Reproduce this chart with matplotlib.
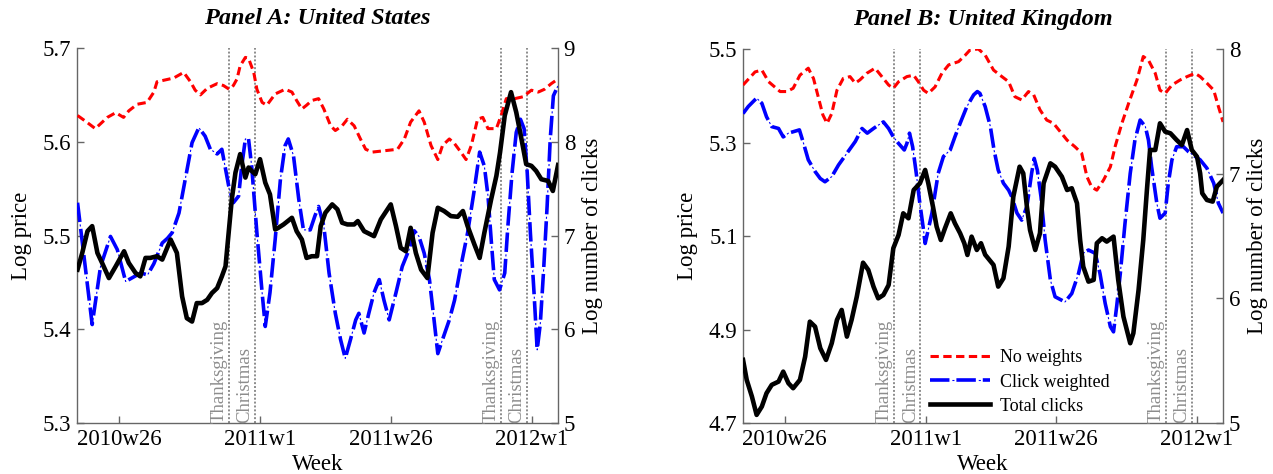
import matplotlib
matplotlib.use("Agg")
import matplotlib.pyplot as plt
from matplotlib.legend_handler import HandlerTuple

plt.rcParams['font.family'] = ['Liberation Serif', 'DejaVu Serif']
plt.rcParams['lines.scale_dashes'] = False

# x axis: weeks counted from 2010w26
tick_weeks = [0, 27, 52, 79]
tick_labels = ['2010w26', '2011w1', '2011w26', '2012w1']
event_weeks = [21, 26, 73, 78]
event_labels = ['Thanksgiving', 'Christmas', 'Thanksgiving', 'Christmas']
legend_labels = ['No weights', 'Click weighted', 'Total clicks']

# Panel A: United States
us_nw_week = [-7.9, -6.4, -4.5, -2.2, -0.6, 0.9, 1.9, 3.5, 5.4, 6.7, 7.3, 8.9, 10.5, 12.4, 13.7,
              14.6, 15.6, 16.9, 18.8, 20.0, 21.1, 21.9, 22.6, 23.2, 24.2, 24.8, 25.8, 26.4, 27.4,
              28.3, 29.9, 31.8, 33.1, 34.0, 35.0, 35.9, 36.9, 38.2, 39.2, 40.5, 41.4, 42.7, 43.7,
              45.0, 46.2, 47.2, 48.5, 50.1, 53.3, 54.6, 55.8, 57.4, 58.4, 59.7, 61.0, 61.9, 63.2,
              64.2, 65.4, 66.4, 67.4, 68.6, 69.6, 70.6, 72.2, 73.1, 74.1, 75.7, 77.3, 78.9, 80.2,
              81.4, 82.7, 84.0]
us_nw_price = [5.628, 5.622, 5.614, 5.626, 5.631, 5.626, 5.633, 5.640, 5.642, 5.653, 5.664, 5.666,
               5.668, 5.674, 5.664, 5.655, 5.650, 5.657, 5.662, 5.660, 5.656, 5.660, 5.667, 5.681,
               5.690, 5.689, 5.674, 5.656, 5.642, 5.639, 5.651, 5.656, 5.653, 5.644, 5.635, 5.639,
               5.644, 5.646, 5.635, 5.617, 5.612, 5.617, 5.624, 5.617, 5.603, 5.592, 5.589, 5.590,
               5.592, 5.603, 5.621, 5.633, 5.621, 5.596, 5.581, 5.596, 5.603, 5.598, 5.589, 5.581,
               5.596, 5.624, 5.626, 5.614, 5.614, 5.628, 5.646, 5.646, 5.648, 5.655, 5.653, 5.656,
               5.662, 5.667]

us_cw_week = [-7.9, -5.1, -3.5, -1.6, -0.3, 1.3, 2.9, 4.2, 5.5, 6.7, 8.3, 9.3, 10.2, 11.5, 12.7,
              14.0, 15.3, 16.5, 17.5, 18.8, 19.7, 21.0, 21.9, 22.9, 23.5, 24.2, 24.8, 25.4, 26.4,
              27.4, 28.0, 28.9, 29.9, 30.9, 31.8, 32.4, 33.4, 34.4, 35.3, 36.6, 37.5, 38.2, 39.2,
              40.2, 41.4, 42.4, 43.3, 44.3, 45.3, 45.9, 46.9, 47.8, 48.8, 49.8, 50.7, 51.7, 53.0,
              54.2, 55.5, 56.5, 57.4, 58.4, 59.4, 60.2, 61.0, 61.9, 63.2, 64.2, 65.4, 66.7, 67.9,
              69.0, 69.9, 70.6, 71.2, 71.8, 72.8, 73.8, 74.4, 75.2, 76.0, 76.8, 77.5, 78.1, 78.7,
              79.4, 80.0, 80.6, 81.2, 81.9, 82.5, 83.1, 84.0]
us_cw_price = [5.535, 5.405, 5.467, 5.499, 5.485, 5.451, 5.456, 5.460, 5.458, 5.470, 5.492, 5.497,
               5.503, 5.524, 5.560, 5.599, 5.615, 5.606, 5.592, 5.587, 5.592, 5.553, 5.535, 5.542,
               5.574, 5.603, 5.603, 5.574, 5.503, 5.439, 5.403, 5.439, 5.496, 5.560, 5.596, 5.603,
               5.585, 5.539, 5.506, 5.506, 5.521, 5.531, 5.510, 5.460, 5.417, 5.389, 5.369, 5.389,
               5.410, 5.417, 5.396, 5.417, 5.439, 5.453, 5.431, 5.410, 5.439, 5.467, 5.485, 5.505,
               5.499, 5.481, 5.453, 5.414, 5.374, 5.389, 5.410, 5.431, 5.467, 5.503, 5.546, 5.589,
               5.574, 5.542, 5.496, 5.453, 5.442, 5.460, 5.510, 5.567, 5.610, 5.624, 5.614, 5.567,
               5.503, 5.439, 5.378, 5.406, 5.460, 5.531, 5.603, 5.649, 5.660]

us_clk_week = [-7.9, -7.0, -6.0, -5.1, -4.1, -3.2, -1.9, -0.6, 1.0, 1.9, 3.2, 4.1, 5.1, 6.0, 7.3,
               8.3, 9.9, 11.1, 12.1, 13.0, 14.0, 14.9, 15.9, 16.9, 17.8, 18.8, 19.7, 20.4, 21.0,
               21.6, 22.3, 23.2, 24.2, 24.8, 25.4, 26.1, 27.0, 28.0, 28.9, 29.9, 30.5, 31.5, 33.1,
               34.0, 35.0, 35.9, 36.9, 37.9, 38.6, 39.5, 40.8, 41.8, 42.7, 43.7, 45.0, 45.7, 46.9,
               48.8, 50.1, 52.0, 53.0, 53.9, 54.9, 55.8, 56.8, 57.8, 59.0, 60.0, 61.0, 62.2, 63.5,
               64.8, 65.8, 66.7, 68.0, 69.0, 69.9, 71.2, 72.2, 72.9, 73.8, 75.0, 76.0, 77.0, 77.9,
               78.9, 79.8, 80.8, 82.1, 83.0, 84.0]
us_clk_log = [6.636, 6.814, 7.046, 7.100, 6.814, 6.707, 6.546, 6.671, 6.832, 6.707, 6.600, 6.564,
              6.761, 6.761, 6.779, 6.743, 6.957, 6.814, 6.350, 6.118, 6.082, 6.279, 6.279, 6.314,
              6.386, 6.439, 6.564, 6.671, 7.029, 7.386, 7.671, 7.868, 7.618, 7.725, 7.689, 7.654,
              7.814, 7.564, 7.439, 7.064, 7.082, 7.118, 7.189, 7.046, 6.957, 6.761, 6.779, 6.779,
              7.100, 7.243, 7.332, 7.279, 7.136, 7.118, 7.118, 7.154, 7.046, 6.993, 7.171, 7.332,
              7.100, 6.868, 6.832, 7.082, 6.814, 6.636, 6.546, 7.029, 7.296, 7.261, 7.207, 7.200,
              7.261, 7.100, 6.904, 6.761, 7.029, 7.386, 7.636, 7.886, 8.279, 8.529, 8.314, 8.029,
              7.761, 7.743, 7.689, 7.600, 7.582, 7.475, 7.752]

# Panel B: United Kingdom
uk_nw_week = [-8.0, -5.7, -4.4, -3.1, -0.9, 0.4, 1.6, 2.9, 4.5, 5.5, 6.4, 7.3, 8.1, 9.0, 10.0,
              11.2, 12.5, 13.5, 14.4, 15.7, 17.3, 18.6, 19.9, 20.8, 21.8, 23.4, 24.7, 25.6, 26.6,
              27.5, 28.8, 30.1, 31.4, 33.3, 34.6, 35.5, 37.1, 38.4, 40.0, 41.6, 42.9, 44.1, 45.4,
              46.7, 47.7, 48.9, 50.2, 51.5, 52.8, 54.1, 55.6, 56.9, 57.9, 58.8, 59.8, 61.1, 62.4,
              63.3, 64.6, 65.9, 67.5, 68.7, 69.7, 71.0, 71.9, 72.9, 74.2, 75.8, 77.1, 78.6, 79.6,
              80.9, 82.2, 83.1, 84.0]
uk_nw_price = [5.423, 5.451, 5.455, 5.430, 5.409, 5.409, 5.416, 5.444, 5.459, 5.437, 5.398, 5.359,
               5.341, 5.362, 5.412, 5.437, 5.441, 5.427, 5.434, 5.448, 5.459, 5.441, 5.423, 5.416,
               5.430, 5.441, 5.444, 5.430, 5.412, 5.405, 5.419, 5.448, 5.466, 5.473, 5.487, 5.498,
               5.500, 5.487, 5.455, 5.441, 5.430, 5.398, 5.391, 5.409, 5.402, 5.370, 5.348, 5.341,
               5.323, 5.305, 5.291, 5.277, 5.227, 5.205, 5.198, 5.220, 5.248, 5.291, 5.341, 5.384,
               5.434, 5.484, 5.476, 5.448, 5.412, 5.405, 5.423, 5.434, 5.441, 5.448, 5.441, 5.427,
               5.412, 5.377, 5.344]

uk_cw_week = [-8.0, -7.0, -5.4, -4.4, -3.5, -2.5, -1.2, -0.3, 0.7, 1.6, 2.8, 3.6, 4.5, 5.8, 6.8,
              7.7, 9.0, 10.3, 11.9, 13.5, 14.8, 15.8, 17.0, 17.9, 18.9, 19.9, 20.8, 21.8, 22.9,
              23.4, 23.9, 24.5, 25.2, 25.8, 26.5, 26.9, 28.2, 29.4, 30.4, 31.7, 32.6, 33.6, 34.9,
              36.2, 36.9, 37.4, 38.4, 39.4, 40.1, 40.9, 41.9, 42.9, 43.5, 44.5, 45.4, 46.4, 47.3,
              47.8, 48.4, 49.1, 49.9, 50.9, 51.8, 53.7, 55.0, 56.3, 57.2, 58.2, 59.5, 60.4, 61.4,
              62.4, 63.0, 63.6, 64.3, 65.2, 66.2, 67.1, 68.1, 69.1, 69.7, 70.3, 71.3, 71.9, 72.9,
              73.5, 74.2, 75.1, 76.4, 77.4, 78.3, 79.6, 80.9, 82.2, 83.1, 84.0]
uk_cw_price = [5.362, 5.377, 5.395, 5.384, 5.355, 5.334, 5.330, 5.312, 5.320, 5.323, 5.327, 5.298,
               5.263, 5.238, 5.223, 5.216, 5.227, 5.252, 5.277, 5.302, 5.330, 5.320, 5.330, 5.337,
               5.344, 5.330, 5.312, 5.298, 5.284, 5.298, 5.320, 5.291, 5.234, 5.177, 5.120, 5.084,
               5.149, 5.234, 5.270, 5.284, 5.312, 5.341, 5.377, 5.402, 5.409, 5.405, 5.377, 5.334,
               5.284, 5.241, 5.213, 5.198, 5.184, 5.149, 5.134, 5.163, 5.234, 5.266, 5.241, 5.184,
               5.091, 5.006, 4.970, 4.959, 4.977, 5.020, 5.063, 5.070, 5.063, 5.020, 4.956, 4.906,
               4.895, 4.949, 5.020, 5.127, 5.234, 5.305, 5.348, 5.334, 5.305, 5.248, 5.170, 5.138,
               5.149, 5.213, 5.263, 5.291, 5.291, 5.280, 5.273, 5.263, 5.245, 5.213, 5.170, 5.149]

uk_clk_week = [-8.0, -7.3, -6.3, -5.4, -4.4, -3.5, -2.5, -1.2, -0.3, 0.7, 1.6, 2.9, 3.9, 4.8, 5.8,
               6.8, 7.9, 9.0, 10.0, 10.9, 11.9, 12.8, 13.8, 15.0, 16.0, 17.0, 17.9, 18.9, 19.9,
               20.8, 21.8, 22.7, 23.7, 24.7, 25.9, 26.9, 27.5, 28.4, 29.1, 29.9, 30.7, 31.8, 32.6,
               33.6, 34.4, 35.0, 35.8, 36.8, 37.6, 38.4, 40.0, 40.9, 41.9, 42.9, 43.8, 45.0, 45.7,
               46.4, 47.0, 48.0, 48.9, 49.6, 50.9, 51.8, 53.1, 54.1, 55.0, 56.0, 56.6, 57.2, 58.2,
               59.2, 59.8, 60.8, 61.7, 63.0, 63.9, 64.9, 66.2, 66.8, 67.8, 68.7, 69.4, 70.0, 71.0,
               71.9, 72.9, 73.9, 75.1, 76.1, 77.1, 78.0, 79.0, 79.6, 80.0, 80.9, 82.0, 82.8, 84.0]
uk_clk_log = [5.506, 5.346, 5.212, 5.065, 5.132, 5.239, 5.306, 5.332, 5.412, 5.319, 5.279, 5.346,
              5.532, 5.813, 5.773, 5.600, 5.506, 5.640, 5.827, 5.907, 5.693, 5.827, 6.014, 6.286,
              6.228, 6.094, 6.000, 6.027, 6.107, 6.402, 6.508, 6.682, 6.642, 6.869, 6.923, 7.030,
              6.923, 6.735, 6.575, 6.468, 6.562, 6.682, 6.602, 6.522, 6.442, 6.348, 6.495, 6.388,
              6.442, 6.350, 6.268, 6.094, 6.161, 6.415, 6.816, 7.056, 7.003, 6.735, 6.548, 6.388,
              6.522, 6.923, 7.083, 7.056, 6.976, 6.869, 6.883, 6.763, 6.468, 6.254, 6.134, 6.148,
              6.442, 6.482, 6.455, 6.495, 6.148, 5.853, 5.640, 5.720, 6.067, 6.468, 6.869, 7.190,
              7.190, 7.404, 7.337, 7.324, 7.270, 7.230, 7.350, 7.190, 7.136, 7.003, 6.843, 6.789,
              6.776, 6.896, 6.949]

SPINE = '#666666'
EVENT = '#8c8c8c'


def draw_panel(fig, rect, title, nw, cw, clk, price_ticks, click_ticks, legend=False):
    ax = fig.add_axes(rect)
    ax2 = ax.twinx()

    for wk, lab in zip(event_weeks, event_labels):
        ax.axvline(wk, color=EVENT, lw=1.4, ls=(0, (1.4, 1.4)), zorder=1)
        ax.annotate(lab, xy=(wk, 0), xycoords=('data', 'axes fraction'),
                    xytext=(-1, 0), textcoords='offset points', rotation=90,
                    ha='right', va='bottom', fontsize=13.5, color=EVENT)

    red, = ax.plot(nw[0], nw[1], color='#ff0000', lw=2.2, ls=(0, (6, 3.2)), zorder=3)
    # dash-dot drawn as thick dashes plus a thin dot in the gap
    blue, = ax.plot(cw[0], cw[1], color='#0000ff', lw=2.6, ls=(0, (14, 5)), zorder=3)
    blue_dot, = ax.plot(cw[0], cw[1], color='#0000ff', lw=0.8, ls=(3.25, (1.5, 17.5)), zorder=3)
    black, = ax2.plot(clk[0], clk[1], color='black', lw=3.3, zorder=3)

    ax.set_xlim(-8, 84)
    ax.set_ylim(price_ticks[0], price_ticks[-1])
    ax2.set_ylim(click_ticks[0], click_ticks[-1])
    ax.set_xticks(tick_weeks)
    ax.set_xticklabels(tick_labels)
    ax.set_yticks(price_ticks)
    ax.set_yticklabels(['%.1f' % v for v in price_ticks])
    ax2.set_yticks(click_ticks)
    ax2.set_yticklabels(['%d' % v for v in click_ticks])

    ax.tick_params(direction='in', length=5, width=1, color=SPINE, labelsize=16.5, pad=4)
    ax2.tick_params(direction='in', length=5, width=1, color=SPINE, labelsize=16.5, pad=4)

    ax.spines['top'].set_visible(False)
    ax.spines['right'].set_visible(False)
    for s in ['top', 'left', 'bottom']:
        ax2.spines[s].set_visible(False)
    for s in [ax.spines['left'], ax.spines['bottom'], ax2.spines['right']]:
        s.set_color(SPINE)
        s.set_linewidth(1.0)

    ax.set_xlabel('Week', fontsize=16.5, labelpad=3)
    ax.set_ylabel('Log price', fontsize=16.5, labelpad=8)
    ax2.set_ylabel('Log number of clicks', fontsize=16.5, labelpad=5)
    ax.set_title(title, fontsize=17.5, fontweight='bold', fontstyle='italic', pad=17)

    if legend:
        ax.legend([red, (blue, blue_dot), black], legend_labels,
                  handler_map={tuple: HandlerTuple(ndivide=1)},
                  loc='lower left', bbox_to_anchor=(0.39, 0.022), frameon=False,
                  fontsize=13, handlelength=3.3, handletextpad=0.55,
                  labelspacing=0.4, borderpad=0, borderaxespad=0)
    return ax, ax2


fig = plt.figure(figsize=(12.73, 4.74), dpi=100)

draw_panel(fig, [0.0605, 0.1076, 0.3779, 0.7911], 'Panel A: United States',
           (us_nw_week, us_nw_price), (us_cw_week, us_cw_price), (us_clk_week, us_clk_log),
           [5.3, 5.4, 5.5, 5.6, 5.7], [5, 6, 7, 8, 9])
draw_panel(fig, [0.5837, 0.1076, 0.3771, 0.7890], 'Panel B: United Kingdom',
           (uk_nw_week, uk_nw_price), (uk_cw_week, uk_cw_price), (uk_clk_week, uk_clk_log),
           [4.7, 4.9, 5.1, 5.3, 5.5], [5, 6, 7, 8], legend=True)

fig.savefig('out.png', dpi=100)
